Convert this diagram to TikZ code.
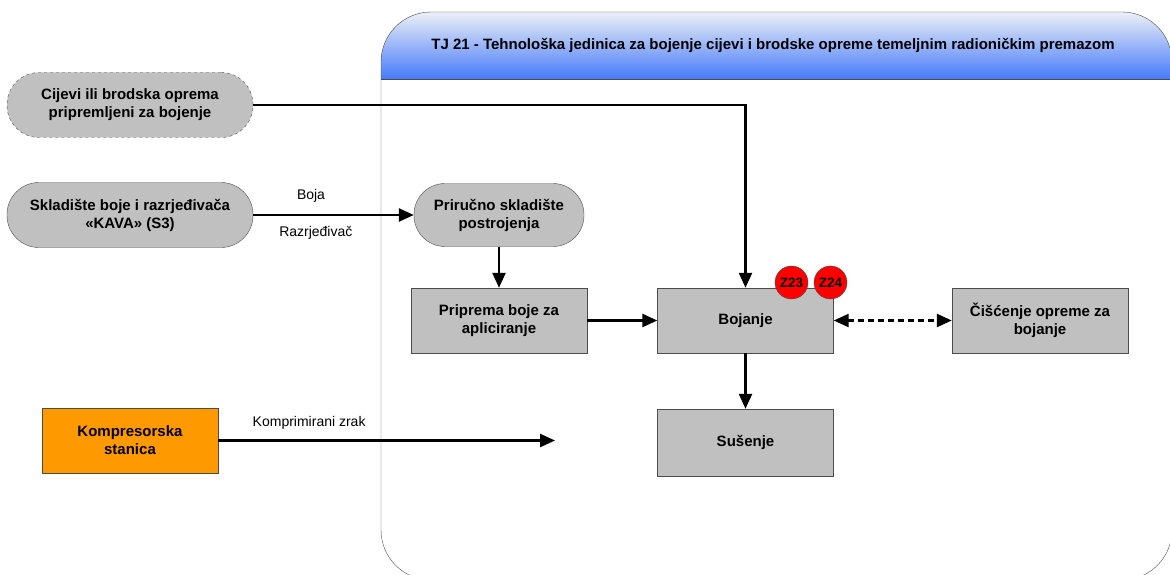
\documentclass[tikz,border=0pt]{standalone}
\usepackage{fontspec}
\setmainfont{Liberation Sans}
\usetikzlibrary{arrows.meta}
\definecolor{boxgray}{RGB}{192,192,192}
\definecolor{orangebox}{RGB}{255,153,0}
\definecolor{headtop}{RGB}{236,240,246}
\definecolor{headbot}{RGB}{70,122,250}
\begin{document}
\begin{tikzpicture}[x=1pt,y=-1pt,
  box/.style={draw=black!70, fill=boxgray, minimum width=176pt, minimum height=65pt,
    align=center, font=\fontsize{15}{18}\selectfont\bfseries, inner sep=0pt},
  pill/.style={box, rounded corners=32pt, minimum width=246pt},
  flow/.style={line width=2.4pt, -{Triangle[length=15pt,width=13pt]}},
  lbl/.style={font=\fontsize{14}{16}\selectfont, inner sep=0pt},
  tag/.style={circle, draw=black!70, fill=red, minimum size=33pt, inner sep=0pt,
    font=\fontsize{13.5}{14}\selectfont\bfseries}
]
\useasboundingbox (0,0) rectangle (1170,575);

% technological unit frame with gradient header
\begin{scope}
  \clip[rounded corners=50pt] (381,12) rectangle (1172,580);
  \shade[top color=headtop, bottom color=headbot] (381,12) rectangle (1172,79);
\end{scope}
\draw[black!70] (381,79) -- (1172,79);
\draw[black!70, rounded corners=50pt] (381,12) rectangle (1172,580);
\node[font=\fontsize{15}{17}\selectfont\bfseries] (title) at (773,45)
  {TJ 21 - Tehnološka jedinica za bojenje cijevi i brodske opreme temeljnim radioničkim premazom};

% external sources
\node[pill, dashed] (cij) at (130,105) {Cijevi ili brodska oprema\\pripremljeni za bojenje};
\node[pill] (skl) at (130,215) {Skladište boje i razrjeđivača\\«KAVA» (S3)};
\node[box, fill=orangebox] (kom) at (130,440.5) {Kompresorska\\stanica};

% process steps
\node[box, rounded corners=31pt, minimum width=170pt, minimum height=63pt] (pri) at (499,215) {Priručno skladište\\postrojenja};
\node[box] (pre) at (499,320.5) {Priprema boje za\\apliciranje};
\node[box] (boj) at (745.5,320.5) {Bojanje};
\node[box] (cis) at (1040,320.5) {Čišćenje opreme za\\bojanje};
\node[box, minimum height=67pt] (sus) at (745.5,442.5) {Sušenje};

% emission points
\node[tag] (z23) at (791.5,282.5) {Z23};
\node[tag] (z24) at (830.5,282.5) {Z24};

% flows
\coordinate (zrak) at (555,440.5);
\draw[flow] (cij.east) -| (boj.north);
\draw[flow] (skl.east) -- (pri.west)
  node[lbl, pos=0.36, above=11pt] {Boja}
  node[lbl, pos=0.39, below=10pt] {Razrjeđivač};
\draw[flow] (pri.south) -- (pre.north);
\draw[flow] (pre.east) -- (boj.west);
\draw[flow] (boj.south) -- (sus.north);
\draw[line width=2.4pt, dash pattern=on 6pt off 4pt,
  {Triangle[length=15pt,width=13pt]}-{Triangle[length=15pt,width=13pt]}] (boj.east) -- (cis.west);
\draw[flow] (kom.east) -- (zrak)
  node[lbl, pos=0.27, above=10pt] {Komprimirani zrak};
\end{tikzpicture}
\end{document}
